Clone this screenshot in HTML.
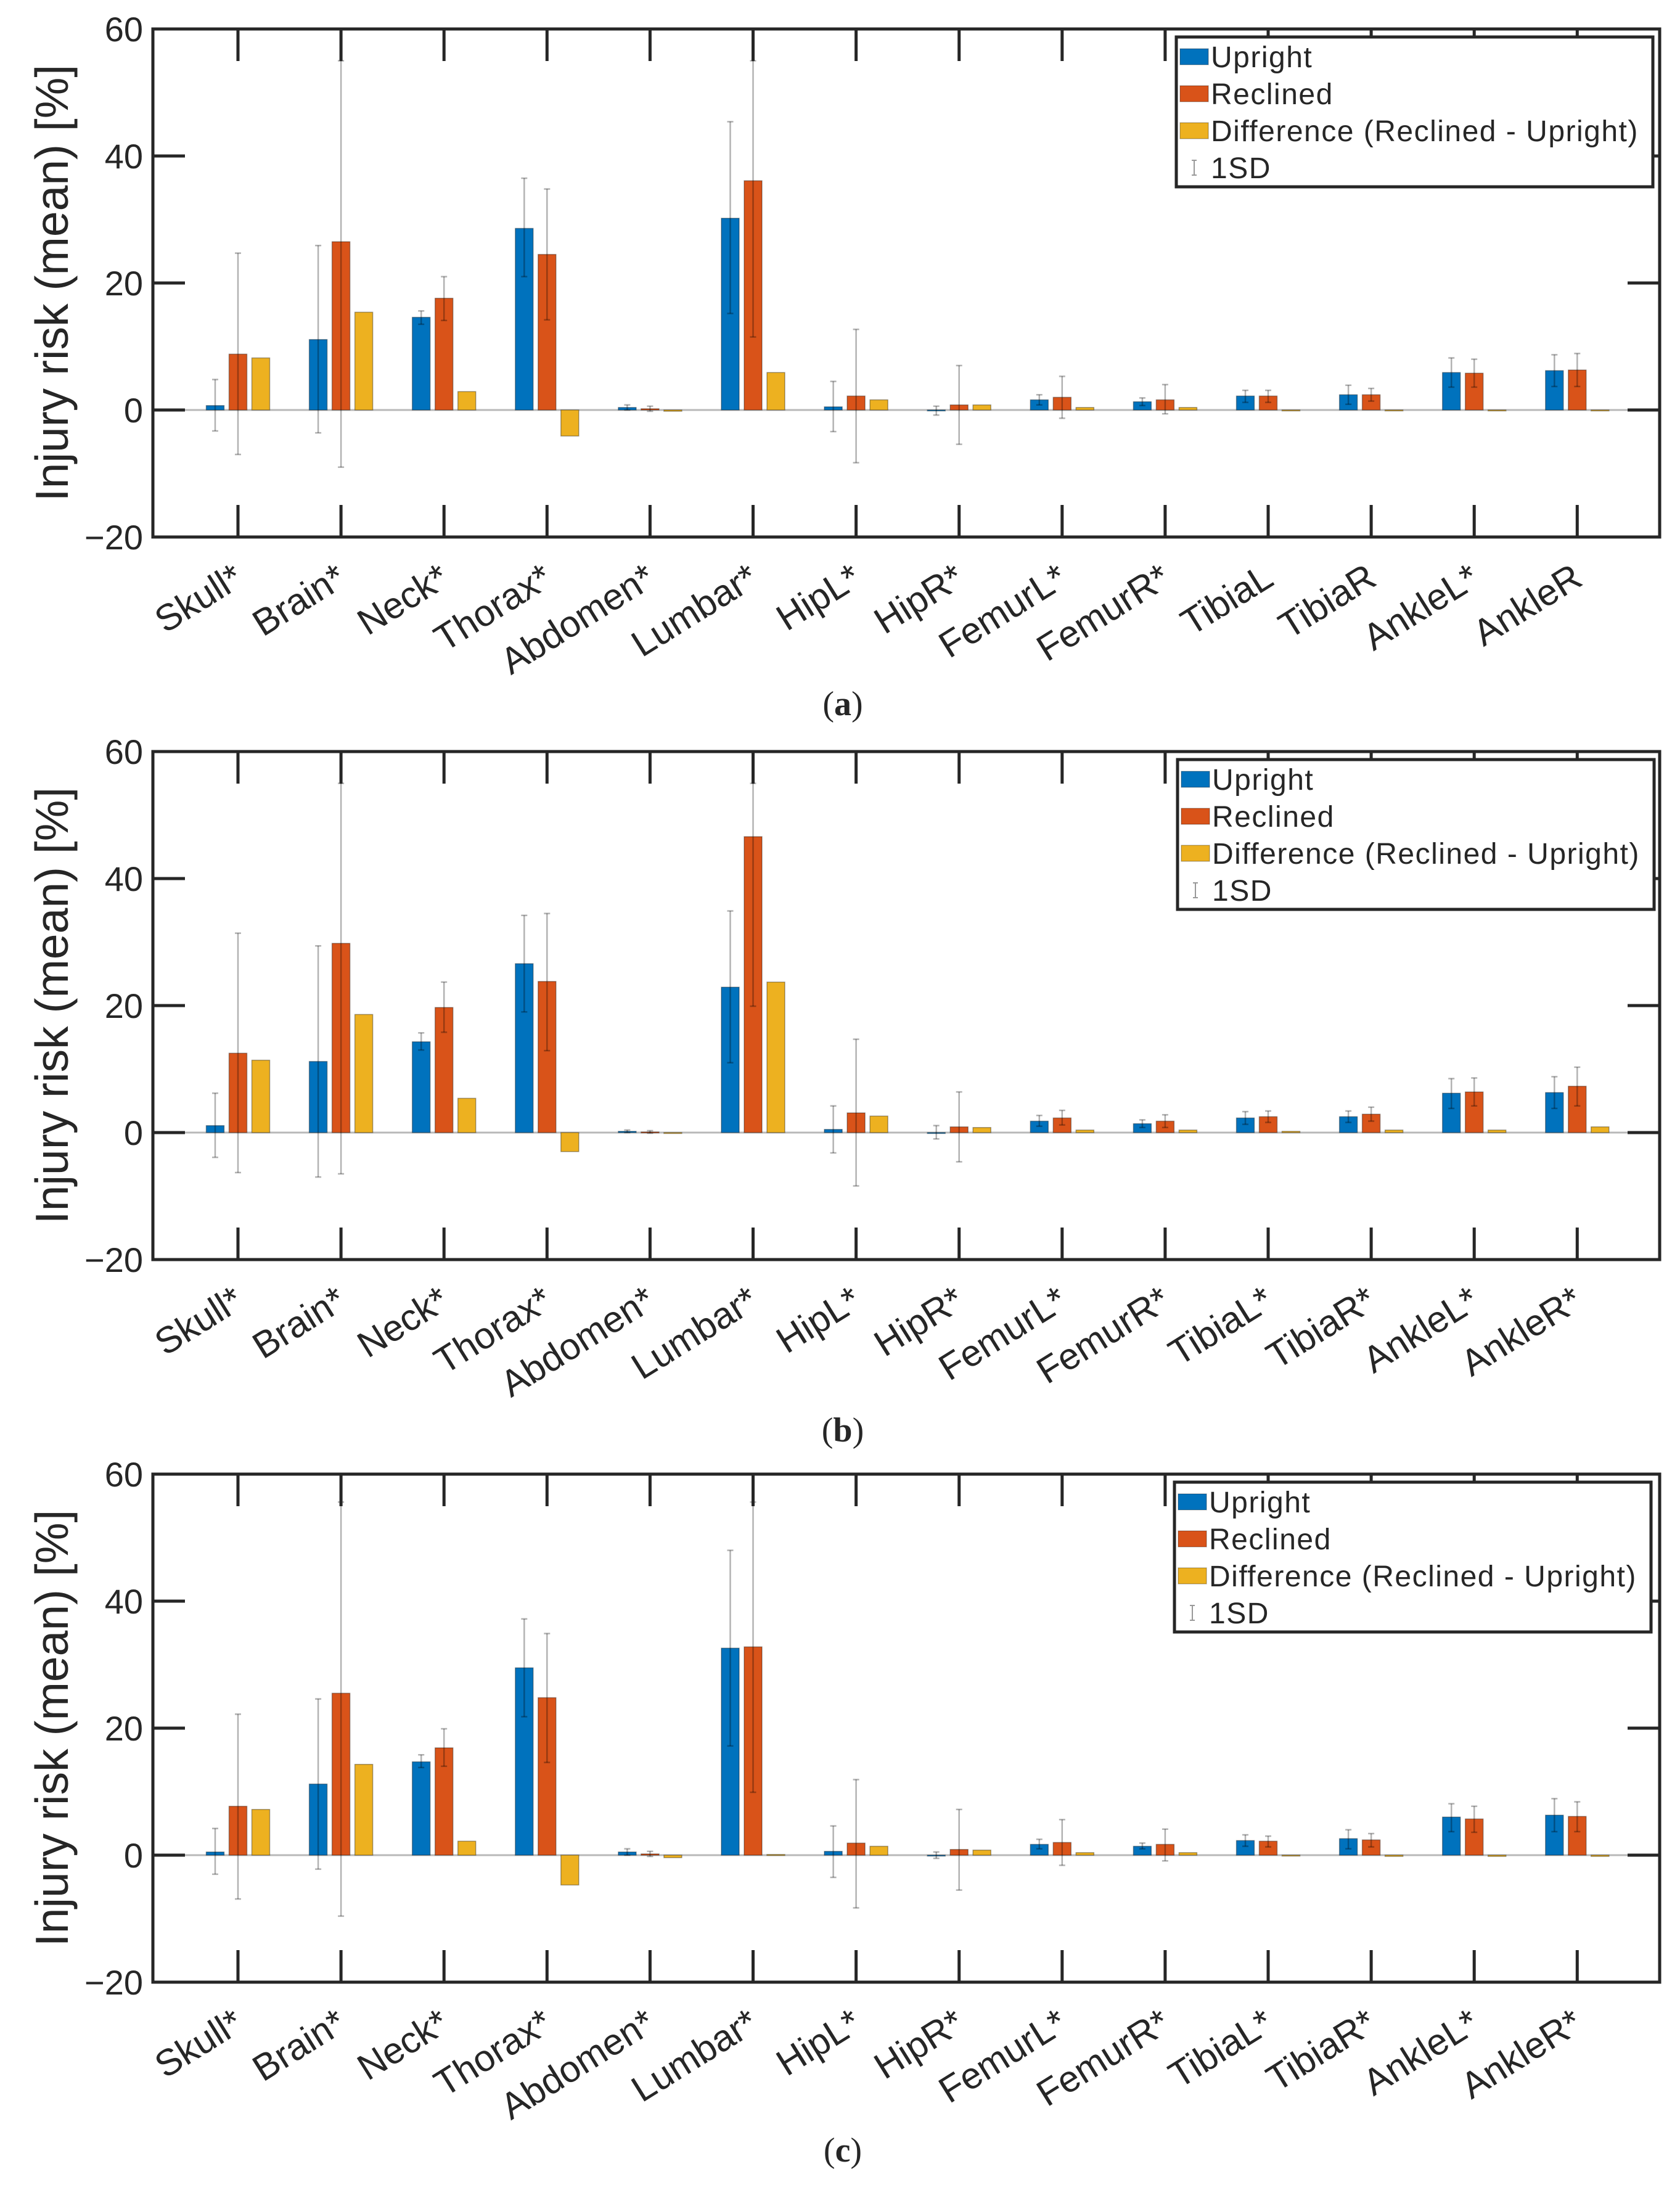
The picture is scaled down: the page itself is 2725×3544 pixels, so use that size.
<!DOCTYPE html>
<html><head><meta charset="utf-8"><style>
html,body{margin:0;padding:0;background:#fff;}
svg{display:block;}
text{font-family:"Liberation Sans",Arial,sans-serif;fill:#262626;}
</style></head><body>
<svg id="chart" xmlns="http://www.w3.org/2000/svg" width="2725" height="3544" viewBox="0 0 2725 3544"></svg>
<script>
const categories = ["Skull","Brain","Neck","Thorax","Abdomen","Lumbar","HipL","HipR","FemurL","FemurR","TibiaL","TibiaR","AnkleL","AnkleR"];
const labelsA = ["Skull*","Brain*","Neck*","Thorax*","Abdomen*","Lumbar*","HipL*","HipR*","FemurL*","FemurR*","TibiaL","TibiaR","AnkleL*","AnkleR"];
const labelsB = ["Skull*","Brain*","Neck*","Thorax*","Abdomen*","Lumbar*","HipL*","HipR*","FemurL*","FemurR*","TibiaL*","TibiaR*","AnkleL*","AnkleR*"];
const labelsC = ["Skull*","Brain*","Neck*","Thorax*","Abdomen*","Lumbar*","HipL*","HipR*","FemurL*","FemurR*","TibiaL*","TibiaR*","AnkleL*","AnkleR*"];
const yTicks = [-20,0,20,40,60];
const seriesNames = ["Upright","Reclined","Difference (Reclined - Upright)"];

// Panel (a)
const uprightA = [0.7,11.1,14.6,28.6,0.4,30.2,0.5,-0.1,1.6,1.3,2.2,2.4,5.9,6.2];
const reclinedA = [8.8,26.5,17.6,24.5,0.2,36.1,2.2,0.8,2.0,1.6,2.2,2.4,5.8,6.3];
const diffA = [8.2,15.4,2.9,-4.1,-0.2,5.9,1.6,0.8,0.4,0.4,0.0,0.0,-0.1,0.0];
const upLoA = [-3.3,-3.6,13.5,21.0,0.0,15.2,-3.4,-0.8,0.8,0.7,1.2,0.9,3.6,3.7];
const upHiA = [4.8,25.9,15.6,36.5,0.8,45.4,4.5,0.6,2.4,1.9,3.1,3.9,8.2,8.7];
const reLoA = [-7.0,-9.0,14.1,14.2,-0.2,11.5,-8.3,-5.4,-1.3,-0.6,1.2,1.4,3.6,3.7];
const reHiA = [24.7,55.0,21.0,34.8,0.6,55.0,12.7,7.0,5.3,4.0,3.1,3.4,8.0,8.9];

// Panel (b)
const uprightB = [1.1,11.2,14.3,26.6,0.2,22.9,0.5,-0.1,1.8,1.4,2.3,2.5,6.2,6.3];
const reclinedB = [12.5,29.8,19.7,23.8,0.1,46.6,3.1,0.9,2.3,1.8,2.5,2.9,6.4,7.3];
const diffB = [11.4,18.6,5.4,-3.0,-0.1,23.7,2.6,0.8,0.4,0.4,0.2,0.4,0.4,0.9];
const upLoB = [-3.9,-7.0,13.0,19.0,0.0,11.0,-3.2,-1.0,1.0,0.8,1.3,1.6,3.8,3.8];
const upHiB = [6.2,29.4,15.7,34.2,0.4,34.9,4.2,1.1,2.7,2.0,3.3,3.4,8.5,8.8];
const reLoB = [-6.3,-6.5,15.8,12.9,-0.1,19.9,-8.4,-4.6,1.2,0.8,1.6,1.8,4.2,4.2];
const reHiB = [31.4,55.0,23.7,34.5,0.3,55.0,14.7,6.4,3.5,2.8,3.4,4.0,8.6,10.3];

// Panel (c)
const uprightC = [0.5,11.2,14.7,29.5,0.5,32.6,0.6,-0.1,1.7,1.4,2.3,2.6,6.0,6.3];
const reclinedC = [7.7,25.5,16.9,24.8,0.2,32.8,1.9,0.9,2.0,1.7,2.2,2.4,5.7,6.1];
const diffC = [7.2,14.3,2.2,-4.7,-0.4,0.1,1.4,0.8,0.4,0.4,0.0,-0.2,-0.2,-0.2];
const upLoC = [-3.0,-2.2,13.8,21.8,0.0,17.2,-3.5,-0.5,1.0,1.0,1.4,1.0,3.7,3.7];
const upHiC = [4.2,24.6,15.8,37.2,1.0,48.0,4.6,0.5,2.5,1.9,3.2,4.0,8.1,8.9];
const reLoC = [-6.9,-9.6,14.0,14.6,-0.2,9.9,-8.3,-5.5,-1.6,-0.9,1.3,1.3,3.6,3.7];
const reHiC = [22.2,55.6,19.9,34.9,0.6,55.6,11.9,7.2,5.6,4.1,3.0,3.4,7.7,8.4];

const NS = "http://www.w3.org/2000/svg";
const svg = document.getElementById("chart");
const COLORS = ["#0072BD","#D95319","#EDB120"];
function mk(tag, attrs, parent){
  const e = document.createElementNS(NS, tag);
  for (const k in attrs) e.setAttribute(k, attrs[k]);
  (parent||svg).appendChild(e);
  return e;
}

const AX_L = 248, AX_R = 2692, PANEL_H = 824, Y_MIN = -20, Y_MAX = 60;
const X0 = 386, DX = 167.1, OFF = 37, BW = 29;

function drawPanel(p){
  const top = p.top;
  const y = v => top + (Y_MAX - v) / (Y_MAX - Y_MIN) * PANEL_H;
  const x = i => X0 + DX * i;
  const g = mk("g", {});
  
  

  const zl = mk("line", {x1:AX_L, x2:AX_R, y1:y(0), y2:y(0), stroke:"#b8b8b8", "stroke-width":3}, g);
  
  

  const series = [p.up, p.re, p.diff];
  series.forEach((vals, s) => {
    vals.forEach((v, i) => {
      const cx = x(i) + (s - 1) * OFF;
      const y1 = Math.min(y(v), y(0)), h = Math.max(Math.abs(y(v) - y(0)), 1.5);
      const r = mk("rect", {x:cx - BW/2, y:y1, width:BW, height:h, fill:COLORS[s], stroke:"rgba(0,0,0,0.35)", "stroke-width":1.5}, g);
      
      
    });
  });
  [[p.upLo,p.upHi,0],[p.reLo,p.reHi,1]].forEach(([lo,hi,s]) => {
    lo.forEach((l, i) => {
      const cx = x(i) + (s - 1) * OFF;
      const eg = mk("g", {stroke:"rgba(0,0,0,0.3)", "stroke-width":2.5}, g);
      
      
      mk("line", {x1:cx, x2:cx, y1:y(hi[i]), y2:y(l)}, eg);
      mk("line", {x1:cx-5, x2:cx+5, y1:y(hi[i]), y2:y(hi[i])}, eg);
      mk("line", {x1:cx-5, x2:cx+5, y1:y(l), y2:y(l)}, eg);
    });
  });

  const frame = mk("rect", {x:AX_L, y:top, width:AX_R-AX_L, height:PANEL_H, fill:"none", stroke:"#262626", "stroke-width":5}, g);
  
  
  const tg = mk("g", {stroke:"#262626", "stroke-width":5}, g);
  
  
  categories.forEach((c, i) => {
    mk("line", {x1:x(i), x2:x(i), y1:top, y2:top+52}, tg);
    mk("line", {x1:x(i), x2:x(i), y1:top+PANEL_H, y2:top+PANEL_H-52}, tg);
  });
  yTicks.forEach(t => {
    mk("line", {x1:AX_L, x2:AX_L+52, y1:y(t), y2:y(t)}, tg);
    mk("line", {x1:AX_R, x2:AX_R-52, y1:y(t), y2:y(t)}, tg);
    const tl = mk("text", {x:232, y:y(t)+20, "text-anchor":"end", "font-size":56}, g);
    tl.textContent = (t < 0 ? "\u2212" + Math.abs(t) : String(t));
    
    
  });
  p.labels.forEach((lab, i) => {
    const px = x(i) + 12, py = top + PANEL_H + 76;
    const t = mk("text", {x:px, y:py, "text-anchor":"end", "font-size":60, transform:`rotate(-32 ${px} ${py})`}, g);
    t.textContent = lab;
    
    
  });
  const cy = top + PANEL_H/2;
  const yt = mk("text", {x:84, y:cy, "text-anchor":"middle", "dominant-baseline":"central", "font-size":75, transform:`rotate(-90 84 ${cy})`}, g);
  yt.textContent = "Injury risk (mean) [%]";
  
  

  const lx = p.legX, ly = top + 13;
  const lg = mk("g", {}, g);
  
  
  mk("rect", {x:lx, y:ly, width:773, height:243, fill:"#fff", stroke:"#262626", "stroke-width":5}, lg);
  seriesNames.concat(["1SD"]).forEach((name, k) => {
    const ry = ly + 32 + k * 60;
    const e = mk("g", {}, lg);
    
    
    if (k < 3) {
      mk("rect", {x:lx+6, y:ry-13, width:46, height:26, fill:COLORS[k], stroke:"rgba(0,0,0,0.25)", "stroke-width":1.5}, e);
    } else {
      const gx = lx + 29;
      mk("line", {x1:gx, x2:gx, y1:ry-12, y2:ry+12, stroke:"#999", "stroke-width":2}, e);
      mk("line", {x1:gx-4, x2:gx+4, y1:ry-12, y2:ry-12, stroke:"#999", "stroke-width":2}, e);
      mk("line", {x1:gx-4, x2:gx+4, y1:ry+12, y2:ry+12, stroke:"#999", "stroke-width":2}, e);
    }
    const t = mk("text", {x:lx+56, y:ry+17, "font-size":48, "letter-spacing":"1.5", fill:"#111"}, e);
    t.textContent = name;
  });

  const pl = mk("text", {x:1367, y:p.labY, "text-anchor":"middle", "font-size":56, style:"font-family:'Liberation Serif',serif", fill:"#000"}, svg);
  pl.innerHTML = '(<tspan font-weight="bold">' + p.id + '</tspan>)';
  
  
}

drawPanel({id:"a", top:47, legX:1908, labY:1160, labels:labelsA, up:uprightA, re:reclinedA, diff:diffA, upLo:upLoA, upHi:upHiA, reLo:reLoA, reHi:reHiA});
drawPanel({id:"b", top:1219, legX:1910, labY:2338, labels:labelsB, up:uprightB, re:reclinedB, diff:diffB, upLo:upLoB, upHi:upHiB, reLo:reLoB, reHi:reHiB});
drawPanel({id:"c", top:2391, legX:1905, labY:3506, labels:labelsC, up:uprightC, re:reclinedC, diff:diffC, upLo:upLoC, upHi:upHiC, reLo:reLoC, reHi:reHiC});
</script>
</body></html>
